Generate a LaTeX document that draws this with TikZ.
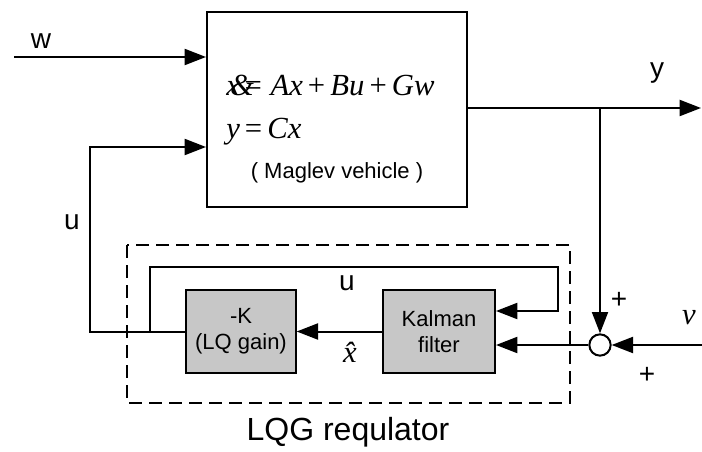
\documentclass[tikz,border=0pt]{standalone}
\usepackage{fontspec}
\setmainfont{Liberation Sans}
\newfontfamily\tmsfont{Liberation Serif}
\newcommand{\mv}[1]{{\tmsfont\itshape #1}}
\newcommand{\mo}[1]{{\tmsfont\,#1\,}}
\usetikzlibrary{arrows.meta,positioning}

\begin{document}
\begin{tikzpicture}[x=0.75pt,y=-0.75pt,
  sig/.style={line width=1.5pt},
  arr/.style={-{Triangle[length=16pt,width=12pt]}},
  blk/.style={draw,line width=1.5pt,inner sep=0pt,align=center,
    font=\fontsize{16.5}{19.5}\selectfont},
  gblk/.style={blk,fill=black!22,minimum width=82pt,minimum height=62pt},
  lbl/.style={font=\fontsize{21}{24}\selectfont,inner sep=0pt},
  eqn/.style={anchor=west,inner sep=0pt,font=\fontsize{23}{27}\selectfont}]
\useasboundingbox (0,0) rectangle (702,452);
% plant
\node[blk,minimum width=195pt,minimum height=146pt] (plant) at (337,109.5) {};
\node[eqn] (eqa) at (226,85) {\mv{x}\kern-0.32em\mv{\&}\kern-0.3em{\tmsfont=} \mv{Ax}\mo{+}\mv{Bu}\mo{+}\mv{Gw}};
\node[eqn] (eqb) at (226,132) {\mv{y}\mo{=}\mv{Cx}};
\node[font=\fontsize{16.5}{19.5}\selectfont,inner sep=0pt] (veh) at (337,173) {( Maglev vehicle )};
% regulator
\draw[dash pattern=on 10pt off 5pt,line width=1.4pt] (127,245) rectangle (570,403);
\node[gblk] (lq) at (241,331.5) {-K\\(LQ gain)};
\node[gblk,minimum width=84pt] (kf) at (439,331.5) {Kalman\\filter};
\node[circle,draw,line width=1.5pt,minimum size=16pt,inner sep=0pt] (sum) at (600,345) {};
% free ends and bends
\coordinate (win) at (14,57);
\coordinate (yout) at (701,108);
\coordinate (br) at (600,108);
\coordinate (vin) at (702,345);
\coordinate (ul) at (90,331.5);
\coordinate (uc) at (90,147);
\coordinate (jn) at (150,331.5);
\coordinate (lp) at (558,267);
\coordinate (fb) at (558,311);
% signals
\draw[sig,arr] (win) -- (plant.west |- win);
\draw[sig,arr] (plant.east |- yout) -- (yout);
\draw[sig,arr] (br) -- (sum.north);
\draw[sig,arr] (vin) -- (sum.east);
\draw[sig,arr] (sum.west) -- (kf.east |- sum);
\draw[sig,arr] (kf.west) -- (lq.east);
\draw[sig,arr] (lq.west) -- (ul) |- (plant.west |- uc);
\draw[sig,arr] (jn) |- (lp) -- (fb) -- (kf.east |- fb);
% labels
\node[lbl] (wl) at (41,41) {w};
\node[lbl] (yl) at (657,73) {y};
\node[lbl] (ul1) at (72,222) {u};
\node[lbl] (ul2) at (347,283) {u};
\node[lbl,font=\fontsize{23}{27}\selectfont] (xh) at (350,352) {\mv{\^{x}}};
\node[lbl,font=\fontsize{23}{27}\selectfont] (vl) at (689,318) {\mv{v}};
\node[lbl] (p1) at (619,300) {+};
\node[lbl] (p2) at (647,375) {+};
\node[font=\fontsize{24}{28}\selectfont,inner sep=0pt] (reg) at (348,432) {LQG requlator};
\end{tikzpicture}
\end{document}
